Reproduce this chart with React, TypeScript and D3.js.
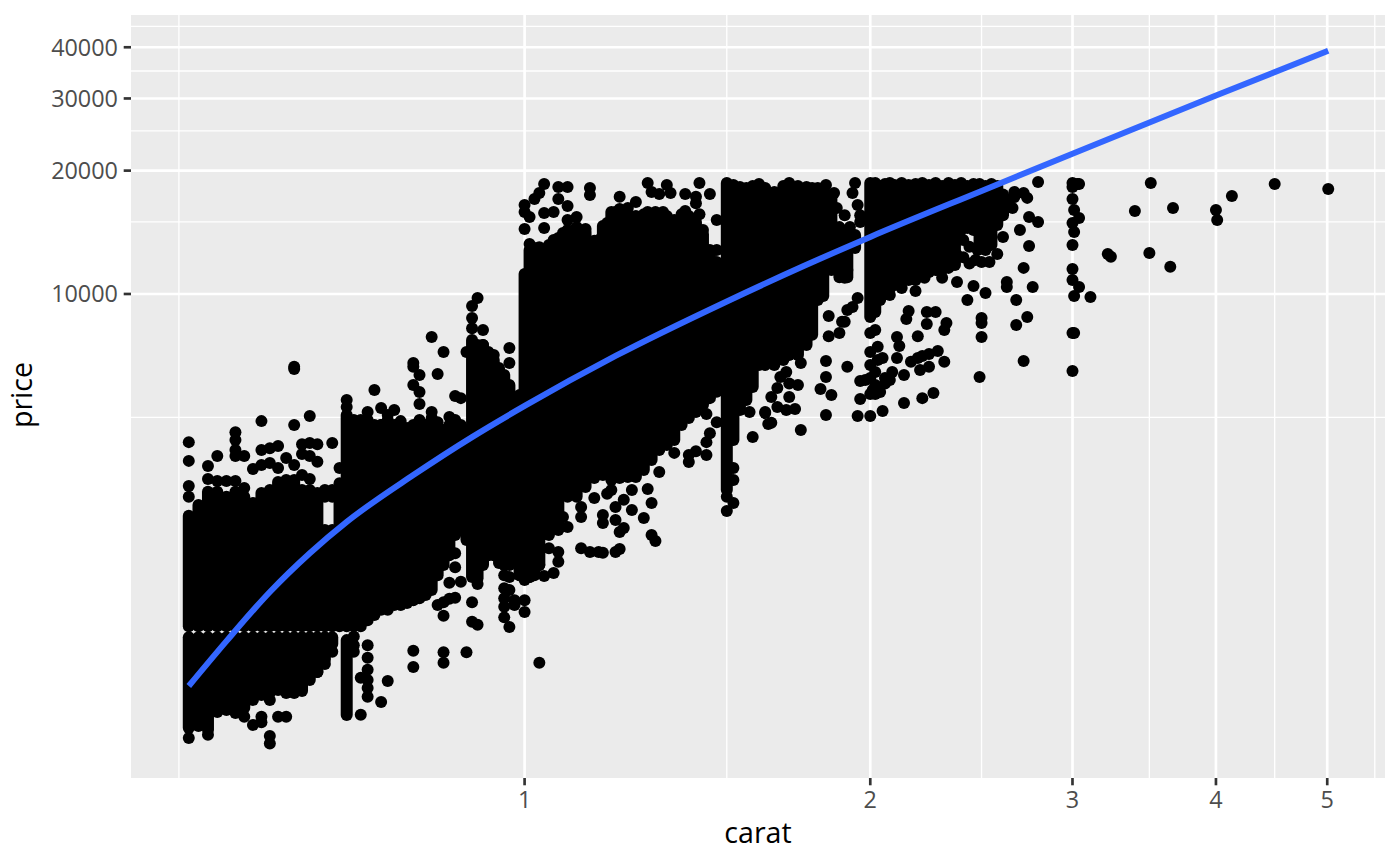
import React from 'react';
import { scaleLog, line, curveMonotoneX } from 'd3';

// Overplotted part of the cloud: carat columns with the price range that reads as solid black
const bandCarat = [
  0.51, 0.52, 0.53, 0.54, 0.55, 0.56, 0.57, 0.58, 0.59, 0.6, 0.61, 0.62, 0.63, 0.64, 0.65, 0.66, 0.67, 0.68, 0.69,
  0.7, 0.71, 0.72, 0.73, 0.74, 0.75, 0.76, 0.77, 0.78, 0.79, 0.8, 0.81, 0.82, 0.83, 0.84, 0.85, 0.86, 0.87, 0.88, 0.89,
  0.9, 0.91, 0.92, 0.93, 0.94, 0.95, 0.96, 0.97, 0.98, 0.99, 1.0, 1.01, 1.02, 1.03, 1.05, 1.07, 1.09, 1.11, 1.13, 1.15,
  1.17, 1.19, 1.21, 1.23, 1.25, 1.27, 1.29, 1.31, 1.33, 1.35, 1.37, 1.39, 1.41, 1.43, 1.45, 1.47,
  1.5, 1.52, 1.54, 1.56, 1.58, 1.6, 1.62, 1.65, 1.68, 1.7, 1.73, 1.76, 1.78, 1.8, 1.82, 1.85, 1.88, 1.91, 1.94,
  2.0, 2.02, 2.04, 2.06, 2.08, 2.1, 2.13, 2.16, 2.19, 2.22, 2.25, 2.28, 2.31, 2.34, 2.37, 2.4, 2.43, 2.46, 2.49, 2.52,
  2.55, 2.58, 2.61, 2.64, 2.67,
];
const bandTop = [
  2875, 3055, 3290, 3290, 3200, 3290, 3200, 3090, 3270, 3325, 3475, 3515, 3515, 3325, 3325, 3270, 2655, 2655, 3325,
  5065, 4925, 4925, 4925, 4790, 4790, 4925, 4790, 4790, 4710, 4790, 4925, 4790, 4980, 4710, 4655, 4790, 4925, 4790, 4655,
  7720, 7510, 7510, 7220, 6900, 6600, 6345, 6000, 5210, 5670, 11190, 12800, 12950, 12950, 13170, 13700, 14330, 14570, 14170, 13480,
  14650, 15850, 16120, 15650, 15490, 15650, 15650, 15650, 15490, 15150, 15650, 15490, 14990, 14010, 12800, 11975,
  18650, 18440, 18240, 18140, 18340, 18545, 18140, 17740, 18340, 18650, 18340, 18240, 18140, 18140, 17940, 17350, 14560, 14170, 13930,
  18650, 18650, 18340, 18545, 18650, 18440, 18650, 18440, 18545, 18650, 18440, 18650, 18340, 18650, 18440, 18650, 18340, 18545, 18545, 18340,
  18545, 18340, 17500, 16960, 17740,
];
const bandBottom = [
  1546, 1546, 1546, 1546, 1546, 1546, 1546, 1546, 1546, 1546, 1546, 1546, 1546, 1546, 1546, 1546, 1546, 1546, 1546,
  1546, 1546, 1546, 1600, 1647, 1695, 1695, 1742, 1742, 1762, 1790, 1810, 1842, 1895, 2060, 2180, 2305, 2580, 2655, 2510,
  2040, 2025, 2180, 2305, 2305, 2245, 2180, 2180, 2450, 2060, 2005, 2040, 2060, 2180, 2580, 2655, 3200, 3200, 3380, 3555,
  3615, 3515, 3555, 3575, 3575, 3720, 3935, 4160, 4280, 4400, 4790, 4980, 5150, 5360, 5570, 5770,
  3325, 4400, 5210, 5510, 5930, 6710, 6710, 6710, 6900, 7100, 7100, 7510, 7950, 9670, 9890, 11445, 10990, 10990, 12950,
  8790, 9040, 9670, 10050, 10300, 10520, 10700, 10820, 10950, 11120, 11320, 11445, 11445, 11580, 11775, 14330, 14490, 14330, 13170, 12800,
  13170, 14730, 15570, 16960, 17240,
];

// Below the empty price strip around 1500
const lowerCarat = [0.51, 0.52, 0.53, 0.54, 0.55, 0.56, 0.57, 0.58, 0.59, 0.6, 0.61, 0.62, 0.63, 0.64, 0.65, 0.66, 0.67, 0.68];
const lowerBottom = [873, 883, 863, 955, 966, 977, 977, 1022, 1050, 1063, 1080, 1063, 1063, 1074, 1143, 1195, 1280, 1400];

// 0.70 carat column hanging below the strip
const seventyCarat = [0.7];
const seventyTop = [1430];
const seventyBottom = [939];

// Points that stand apart from the solid cloud
const leftPoints: [number, number][] = [
  [0.51, 4350], [0.51, 3915], [0.51, 3400], [0.51, 3200], [0.53, 3805], [0.54, 4025], [0.56, 4600], [0.56, 4400],
  [0.56, 4160], [0.56, 4025], [0.57, 4025], [0.59, 4895], [0.63, 4790], [0.65, 5035], [0.63, 6560], [0.63, 6640],
  [0.59, 4160], [0.6, 4205], [0.61, 4255], [0.64, 4300], [0.65, 4330], [0.66, 4300], [0.68, 4330], [0.64, 4070],
  [0.65, 4025], [0.66, 3895], [0.62, 3980], [0.58, 3740], [0.59, 3825], [0.6, 3870], [0.61, 3760], [0.63, 3825],
  [0.64, 3615], [0.69, 3760], [0.53, 3535], [0.54, 3495], [0.55, 3495], [0.56, 3495], [0.57, 3360], [0.65, 3535],
  [0.69, 3455], [0.69, 3235], [0.67, 3200], [0.68, 3200], [0.67, 3325], [0.68, 3325],
];
const midTopPoints: [number, number][] = [
  [0.7, 5510], [0.7, 5300], [0.74, 5830], [0.8, 6790], [0.8, 6640], [0.81, 6345], [0.84, 6380], [0.85, 7220],
  [0.8, 6000], [0.81, 5765], [0.81, 5390], [0.87, 5640], [0.88, 5570], [0.73, 5150], [0.75, 5270], [0.77, 5210],
  [0.75, 4790], [0.78, 4895], [0.83, 5150], [0.84, 4865], [0.86, 5010], [0.76, 5065], [0.83, 7850], [0.91, 9780],
  [0.9, 9350], [0.9, 8740], [0.9, 8250], [0.92, 8170], [0.89, 7220], [0.97, 6790], [0.97, 7380], [0.94, 7100], [0.92, 7510],
];
const oneCaratTopPoints: [number, number][] = [
  [1.04, 18545], [1.07, 18240], [1.09, 18240], [1.14, 18140], [1.14, 17445], [1.03, 17640], [1.02, 17060], [1.0, 16490],
  [1.0, 15850], [1.01, 15410], [1.04, 15765], [1.06, 15850], [1.07, 17060], [1.09, 16390], [1.09, 15150], [1.11, 15410],
  [1.13, 14410], [1.0, 14410], [1.04, 14490], [1.08, 14090], [1.06, 13550], [1.01, 13250], [1.03, 13000], [1.16, 13550],
  [1.21, 17260], [1.25, 16760], [1.2, 15850], [1.23, 16210], [1.18, 14900], [1.28, 18650], [1.29, 17740], [1.31, 17540],
  [1.33, 18440], [1.34, 17640], [1.38, 17540], [1.42, 18650], [1.45, 17540], [1.41, 17260], [1.41, 16660], [1.38, 15940],
  [1.42, 15650], [1.28, 15850], [1.3, 15850], [1.32, 15850], [1.47, 15150], [1.43, 14330], [1.42, 12800], [1.47, 12800],
];
const oneHalfPoints: [number, number][] = [
  [1.83, 18440], [1.94, 18650], [1.93, 17640], [1.86, 17640], [1.87, 16210], [1.9, 15570], [1.92, 14570], [1.96, 15570],
  [1.96, 14990], [1.95, 16490], [1.91, 11445], [1.9, 10950], [1.95, 9780], [1.93, 9290], [1.91, 9140], [1.9, 8555],
  [1.84, 8840], [1.89, 8555], [1.84, 7890], [1.88, 8030], [1.83, 6860], [1.91, 6640], [1.83, 6275], [1.81, 5865],
  [1.85, 5670], [1.83, 5065], [1.64, 4850], [1.74, 4655], [1.62, 5150], [1.66, 5300], [1.69, 5210], [1.72, 5240],
  [1.64, 5605], [1.7, 5605], [1.73, 6000], [1.69, 6450], [1.57, 5150], [1.58, 4475], [1.62, 5120], [1.63, 4815],
  [1.67, 6275], [1.7, 6050], [1.66, 5900], [1.74, 6790], [1.5, 3200], [1.52, 3090], [1.5, 2955], [1.52, 3760], [1.52, 3515],
];
const twoCaratPoints: [number, number][] = [
  [1.96, 6130], [1.96, 5540], [1.95, 5040], [2.0, 5040], [2.05, 5180], [2.14, 5420], [2.22, 5570], [2.27, 5730],
  [2.14, 6345], [2.21, 6525], [2.25, 6640], [2.32, 6830], [2.17, 6830], [2.29, 7260], [2.25, 7140], [2.22, 7060],
  [2.2, 6980], [2.11, 6980], [2.2, 7890], [2.11, 7850], [2.12, 7470], [2.16, 9090], [2.15, 8690], [2.24, 9040],
  [2.28, 9040], [2.24, 8450], [2.33, 8500], [2.32, 8170], [2.43, 9670], [2.46, 10460], [2.52, 10050], [2.63, 10700],
  [2.63, 10400], [2.77, 10400], [2.68, 9670], [2.72, 11580], [2.75, 13100], [2.7, 14330], [2.61, 13780], [2.75, 15410],
  [2.8, 14990], [2.66, 16210], [2.72, 17640], [2.74, 17160], [2.8, 18760], [2.74, 8790], [2.68, 8400], [2.5, 8740],
  [2.5, 8500], [2.5, 7850], [2.72, 6860], [2.49, 6275], [2.03, 7430], [2.0, 7220], [2.05, 6980], [2.0, 6710],
  [2.02, 6450], [2.06, 6240], [2.0, 6240], [2.09, 6450], [2.02, 6000], [2.06, 6050], [2.08, 6165], [2.0, 5700],
  [2.01, 5830], [2.04, 5765], [2.03, 6900], [2.02, 5700], [1.98, 6165], [2.0, 8030], [2.02, 8170], [2.19, 10820],
  [2.23, 10950], [2.29, 11445], [2.31, 10950], [2.38, 10700], [2.13, 10340], [2.19, 10170], [2.08, 9940], [2.12, 10820],
  [2.41, 13550], [2.44, 13040], [2.48, 12800], [2.38, 12450], [2.44, 11860], [2.5, 11975], [2.54, 11975], [2.58, 12520],
  [2.34, 11975], [2.41, 12300], [2.47, 12100],
];
const largeStonePoints: [number, number][] = [
  [3.0, 18650], [3.01, 18545], [3.03, 18545], [3.04, 18545], [3.0, 18240], [3.0, 17060], [3.01, 16030], [3.04, 15320],
  [3.0, 14900], [3.01, 14170], [3.0, 13170], [3.0, 11510], [3.0, 10820], [3.04, 10400], [3.01, 9890], [3.11, 9835],
  [3.0, 8030], [3.01, 8030], [3.0, 6490], [3.51, 18650], [3.4, 15940], [3.67, 16210], [4.0, 16030], [4.01, 15150],
  [4.13, 17350], [4.5, 18545], [5.01, 18040], [3.22, 12520], [3.24, 12320], [3.5, 12590], [3.65, 11650],
];
const lowMidPoints: [number, number][] = [
  [0.67, 1430], [0.68, 1340], [0.67, 1250], [0.66, 1195], [0.71, 1460], [0.71, 1390], [0.71, 1340], [0.73, 1390],
  [0.73, 1295], [0.73, 1210], [0.73, 1143], [0.73, 1092], [0.73, 1040], [0.72, 1157], [0.72, 940], [0.75, 1010],
  [0.76, 1136], [0.8, 1348], [0.8, 1230], [0.85, 1335], [0.85, 1260], [0.89, 1335], [1.03, 1260], [0.85, 1640],
  [0.9, 1585], [0.91, 1560], [0.9, 1770], [0.97, 1540], [0.96, 1625], [1.0, 1675], [0.96, 1810], [0.96, 1725],
  [0.96, 1915], [0.84, 1742], [0.86, 1805], [0.87, 1815], [0.85, 1770], [0.86, 1975], [0.88, 1985], [0.91, 1960],
  [0.87, 2330], [0.87, 2155], [0.6, 834], [0.6, 800], [0.58, 888], [0.59, 902], [0.59, 930], [0.61, 930], [0.62, 930],
  [0.57, 930], [0.56, 950], [0.6, 1022], [0.51, 825], [0.53, 840],
  [0.95, 2205], [0.96, 2060], [0.97, 2040], [0.98, 1790], [1.0, 1790], [1.01, 2040], [1.01, 2060], [0.99, 2060],
  [0.97, 1895], [0.98, 1742],
];
const oneCaratLowPoints: [number, number][] = [
  [1.12, 2395], [1.14, 2345], [1.16, 2345], [1.17, 2335], [1.2, 2345], [1.21, 2385], [1.29, 2580], [1.3, 2495],
  [1.27, 2840], [1.29, 3090], [1.21, 2625], [1.22, 2685], [1.17, 2760], [1.09, 2700], [1.08, 2855], [1.12, 2855],
  [1.18, 3255], [1.28, 3345], [1.31, 3680], [1.39, 3890], [1.39, 4045], [1.44, 4045], [1.41, 4135], [1.35, 4095],
  [1.44, 4350], [1.45, 4575], [1.47, 4865], [1.44, 5095], [1.17, 2890], [1.2, 3020], [1.22, 3145], [1.24, 2970],
  [1.2, 2810], [1.12, 3020], [1.15, 3180], [1.19, 3325], [1.24, 3325],
  [1.05, 2395], [1.07, 2345], [1.07, 2220], [1.04, 2050], [1.06, 2085], [1.03, 2180],
];

// Smooth fit
const smoothCarat = [0.51, 0.55, 0.6, 0.65, 0.7, 0.8, 0.9, 1.0, 1.2, 1.5, 1.75, 2.0, 2.5, 3.0, 4.0, 5.01];
const smoothPrice = [1105, 1422, 1874, 2330, 2779, 3615, 4475, 5330, 7060, 9590, 11700, 13780, 17840, 21990, 30490, 39210];

// Axes
const xMajor = [1, 2, 3, 4, 5];
const xMinor = [0.5, 1.5, 2.5, 3.5, 4.5, 5.5];
const yMajor = [10000, 20000, 30000, 40000];
const yMinor = [5000, 15000, 25000, 35000, 45000];

const width = 1400;
const height = 866;
const panel = { left: 131, right: 1385, top: 15, bottom: 778 };
const font = '"Open Sans", sans-serif';

const App: React.FC = () => {
  const x = scaleLog().domain([0.4542, 5.614]).range([panel.left, panel.right]);
  const y = scaleLog().domain([659, 47950]).range([panel.bottom, panel.top]);

  const smooth = line<number>()
    .x(c => x(c))
    .y((_, i) => y(smoothPrice[i]))
    .curve(curveMonotoneX);

  const points = [
    ...leftPoints, ...midTopPoints, ...oneCaratTopPoints, ...oneHalfPoints, ...twoCaratPoints,
    ...largeStonePoints, ...lowMidPoints, ...oneCaratLowPoints,
  ];

  return (
    <svg width={width} height={height} style={{ position: 'absolute', left: 0, top: 0, background: '#fff' }}>
      <rect x={panel.left} y={panel.top} width={panel.right - panel.left} height={panel.bottom - panel.top} fill="#EBEBEB" />

      {/* grid */}
      <g stroke="#fff" strokeWidth={1.33}>
        {xMinor.map(d => <line key={d} x1={x(d)} x2={x(d)} y1={panel.top} y2={panel.bottom} />)}
        {yMinor.map(d => <line key={d} x1={panel.left} x2={panel.right} y1={y(d)} y2={y(d)} />)}
      </g>
      <g stroke="#fff" strokeWidth={2.67}>
        {xMajor.map(d => <line key={d} x1={x(d)} x2={x(d)} y1={panel.top} y2={panel.bottom} />)}
        {yMajor.map(d => <line key={d} x1={panel.left} x2={panel.right} y1={y(d)} y2={y(d)} />)}
      </g>

      {/* overplotted columns */}
      <g stroke="#000" strokeWidth={12} strokeLinecap="round">
        {bandCarat.map((c, i) => <line key={c} x1={x(c)} x2={x(c)} y1={y(bandTop[i])} y2={y(bandBottom[i])} />)}
        {lowerCarat.map((c, i) => <line key={c} x1={x(c)} x2={x(c)} y1={y(1454)} y2={y(lowerBottom[i])} />)}
        {seventyCarat.map((c, i) => <line key={c} x1={x(c)} x2={x(c)} y1={y(seventyTop[i])} y2={y(seventyBottom[i])} />)}
      </g>

      {/* single points */}
      <g fill="#000">
        {points.map(([c, p], i) => <circle key={i} cx={x(c)} cy={y(p)} r={6} />)}
      </g>

      <path d={smooth(smoothCarat) || ''} fill="none" stroke="#3366FF" strokeWidth={6} />

      {/* axes */}
      <g stroke="#333" strokeWidth={2.67}>
        {xMajor.map(d => <line key={d} x1={x(d)} x2={x(d)} y1={panel.bottom} y2={panel.bottom + 7.3} />)}
        {yMajor.map(d => <line key={d} x1={panel.left - 7.3} x2={panel.left} y1={y(d)} y2={y(d)} />)}
      </g>
      <g fill="#4D4D4D" fontFamily={font} fontSize={23.4}>
        {xMajor.map(d => <text key={d} x={x(d)} y={808} textAnchor="middle">{d}</text>)}
        {yMajor.map(d => <text key={d} x={118} y={y(d) + 8.5} textAnchor="end">{d}</text>)}
      </g>
      <text x={758} y={843} textAnchor="middle" fontFamily={font} fontSize={28.6} fill="#000">carat</text>
      <text transform="translate(32,395) rotate(-90)" textAnchor="middle" fontFamily={font} fontSize={28.6} fill="#000">price</text>
    </svg>
  );
};

export default App;
